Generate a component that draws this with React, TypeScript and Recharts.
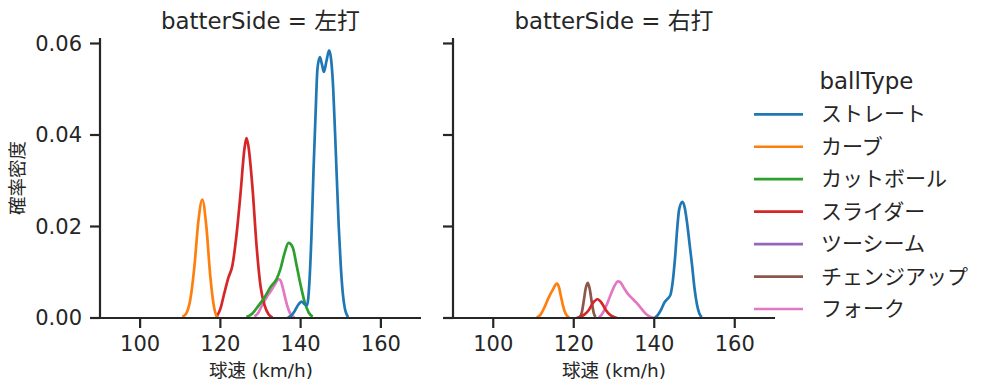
import React from 'react';
import { LineChart, Line, XAxis, YAxis } from 'recharts';

const FONT = '"DejaVu Sans", "Noto Sans CJK JP", sans-serif';
const INK = '#262626';

const ballTypes = ['ストレート', 'カーブ', 'カットボール', 'スライダー', 'ツーシーム', 'チェンジアップ', 'フォーク'];
const colors = ['#1f77b4', '#ff7f0e', '#2ca02c', '#d62728', '#9467bd', '#8c564b', '#e377c2'];
const panelTitles = ['batterSide = 左打', 'batterSide = 右打'];
const xLabel = '球速 (km/h)';
const yLabel = '確率密度';
const legendTitle = 'ballType';
const xTicks = [100, 120, 140, 160];
const yTicks = [0, 0.02, 0.04, 0.06];

type Pt = [number, number];

// ---- 左打 ----
const leftStraight: Pt[] = [
  [136.8, 0.0001], [137.5, 0.0004], [138.5, 0.0015], [139.5, 0.003], [140.2, 0.0036], [141.0, 0.003],
  [141.6, 0.0028], [142.2, 0.008], [142.7, 0.018], [143.2, 0.032], [143.7, 0.044], [144.2, 0.0545],
  [144.8, 0.057], [145.3, 0.0555], [145.8, 0.0538], [146.4, 0.056], [147.1, 0.0585], [147.6, 0.0565],
  [148.1, 0.0505], [148.6, 0.04], [149.0, 0.031], [149.5, 0.02], [150.0, 0.0115], [150.5, 0.0055],
  [151.0, 0.0022], [151.5, 0.0007], [151.9, 0.0002],
];
const leftCurve: Pt[] = [
  [110.5, 0.0002], [111.5, 0.001], [112.5, 0.004], [113.5, 0.011], [114.5, 0.021], [115.5, 0.0259],
  [116.5, 0.02], [117.5, 0.009], [118.5, 0.002], [119.0, 0.0005], [119.5, 0.0001],
];
const leftCutter: Pt[] = [
  [126.5, 0.0002], [128.0, 0.001], [129.5, 0.0027], [131.0, 0.0045], [132.5, 0.0068], [134.0, 0.0085],
  [135.0, 0.0108], [136.0, 0.0142], [137.0, 0.0164], [138.0, 0.0155], [139.0, 0.0115], [140.0, 0.0072],
  [141.0, 0.0035], [142.0, 0.0012], [143.0, 0.0003],
];
const leftSlider: Pt[] = [
  [119.0, 0.0002], [120.0, 0.002], [121.0, 0.0055], [122.0, 0.0088], [123.0, 0.0115], [124.0, 0.018],
  [125.0, 0.027], [126.0, 0.037], [126.5, 0.0393], [127.0, 0.0375], [128.0, 0.0285], [129.0, 0.016],
  [130.0, 0.007], [131.0, 0.0028], [132.0, 0.0008], [133.0, 0.0001],
];
const leftFork: Pt[] = [
  [128.5, 0.0003], [129.5, 0.0012], [130.5, 0.003], [131.5, 0.0045], [132.5, 0.0058], [133.5, 0.0072],
  [134.5, 0.0085], [135.0, 0.0082], [135.5, 0.0068], [136.0, 0.005], [136.5, 0.0032], [137.0, 0.0018],
  [137.5, 0.0008], [138.5, 0.0001],
];

// ---- 右打 ----
const rightStraight: Pt[] = [
  [140.2, 0.0001], [141.0, 0.0008], [141.8, 0.002], [142.6, 0.0035], [143.3, 0.0042], [144.0, 0.005],
  [144.6, 0.008], [145.2, 0.0135], [145.7, 0.0195], [146.2, 0.0238], [147.0, 0.0254], [147.6, 0.024],
  [148.2, 0.0205], [148.8, 0.016], [149.4, 0.0115], [150.0, 0.0065], [150.6, 0.003], [151.2, 0.001],
  [151.8, 0.0002],
];
const rightCurve: Pt[] = [
  [110.8, 0.0001], [111.8, 0.0008], [112.8, 0.0025], [113.8, 0.0045], [114.8, 0.0062], [115.8, 0.0075],
  [116.3, 0.0068], [116.8, 0.0048], [117.3, 0.0028], [117.8, 0.0013], [118.4, 0.0004], [118.9, 0.0001],
];
const rightSlider: Pt[] = [
  [120.7, 0.0], [121.7, 0.0003], [122.7, 0.0008], [123.7, 0.0017], [124.7, 0.0032], [125.9, 0.0041],
  [127.0, 0.0032], [128.0, 0.0017], [129.0, 0.0007], [130.0, 0.0002], [130.8, 0.0],
];
const rightChangeup: Pt[] = [
  [121.4, 0.0001], [122.0, 0.0012], [122.5, 0.0038], [123.0, 0.0066], [123.5, 0.0077], [124.0, 0.0062],
  [124.5, 0.0033], [125.0, 0.001], [125.4, 0.0002],
];
const rightFork: Pt[] = [
  [126.2, 0.0001], [127.0, 0.0008], [128.0, 0.0025], [129.0, 0.0047], [130.0, 0.0068], [131.0, 0.008],
  [131.6, 0.0078], [132.5, 0.0065], [133.5, 0.0052], [134.5, 0.0043], [135.5, 0.0034], [136.5, 0.0024],
  [137.5, 0.0013], [138.5, 0.0005], [139.5, 0.0001], [140.2, 0.0],
];

const leftSeries: (Pt[] | null)[] = [leftStraight, leftCurve, leftCutter, leftSlider, null, null, leftFork];
const rightSeries: (Pt[] | null)[] = [rightStraight, rightCurve, null, rightSlider, null, rightChangeup, rightFork];

const toRows = (pts: Pt[]) => pts.map(([x, y]) => ({ x, y }));

const axisStyle = { stroke: INK, strokeWidth: 2.2 };

function Panel({ series, left, width, yAxisWidth, marginRight, showYLabels }: {
  series: (Pt[] | null)[]; left: number; width: number; yAxisWidth: number; marginRight: number; showYLabels: boolean;
}) {
  const order = ballTypes.map((_, i) => i).reverse();
  return (
    <div style={{ position: 'absolute', left, top: 0 }}>
      <LineChart width={width} height={391} margin={{ top: 38, right: marginRight, bottom: 33, left: 0 }}>
        <XAxis
          dataKey="x"
          type="number"
          domain={[90, 170]}
          ticks={xTicks}
          allowDataOverflow
          height={40}
          axisLine={axisStyle}
          tickLine={axisStyle}
          tickSize={10}
          tickMargin={8}
          tick={{ fontSize: 21, fill: INK, fontFamily: FONT }}
        />
        <YAxis
          type="number"
          domain={[0, 0.0612]}
          ticks={yTicks}
          allowDataOverflow
          width={yAxisWidth}
          axisLine={axisStyle}
          tickLine={axisStyle}
          tickSize={10}
          tickMargin={8}
          tickFormatter={(v: number) => (showYLabels ? v.toFixed(2) : '')}
          tick={{ fontSize: 21, fill: INK, fontFamily: FONT }}
        />
        {order.map((i) =>
          series[i] ? (
            <Line
              key={ballTypes[i]}
              data={toRows(series[i] as Pt[])}
              dataKey="y"
              type="monotone"
              stroke={colors[i]}
              strokeWidth={2.7}
              dot={false}
              activeDot={false}
              isAnimationActive={false}
            />
          ) : null
        )}
      </LineChart>
    </div>
  );
}

export default function App() {
  const legendYs = ballTypes.map((_, i) => 114.3 + i * 32.45);
  return (
    <div style={{ position: 'absolute', left: 0, top: 0, width: 999, height: 391, background: '#fff', fontFamily: FONT }}>
      <Panel series={leftSeries} left={0} width={440} yAxisWidth={100} marginRight={19} showYLabels />
      <Panel series={rightSeries} left={340} width={460} yAxisWidth={113} marginRight={25} showYLabels={false} />
      <svg width={999} height={391} style={{ position: 'absolute', left: 0, top: 0, pointerEvents: 'none' }}>
        <g fontFamily={FONT} fill={INK}>
          <text x={260.5} y={29} fontSize={22.9} textAnchor="middle">{panelTitles[0]}</text>
          <text x={614} y={29} fontSize={22.9} textAnchor="middle">{panelTitles[1]}</text>
          <text x={261} y={370} fontSize={18.5} textAnchor="middle" dominantBaseline="central">{xLabel}</text>
          <text x={614} y={370} fontSize={18.5} textAnchor="middle" dominantBaseline="central">{xLabel}</text>
          <text x={17} y={178} fontSize={18.5} textAnchor="middle" dominantBaseline="central" transform="rotate(-90 17 178)">{yLabel}</text>
          <text x={866.5} y={89} fontSize={22.9} textAnchor="middle">{legendTitle}</text>
          {ballTypes.map((name, i) => (
            <g key={name}>
              <line x1={754} x2={803} y1={legendYs[i]} y2={legendYs[i]} stroke={colors[i]} strokeWidth={2.7} />
              <text x={821} y={legendYs[i]} fontSize={21} dominantBaseline="central">{name}</text>
            </g>
          ))}
        </g>
      </svg>
    </div>
  );
}
